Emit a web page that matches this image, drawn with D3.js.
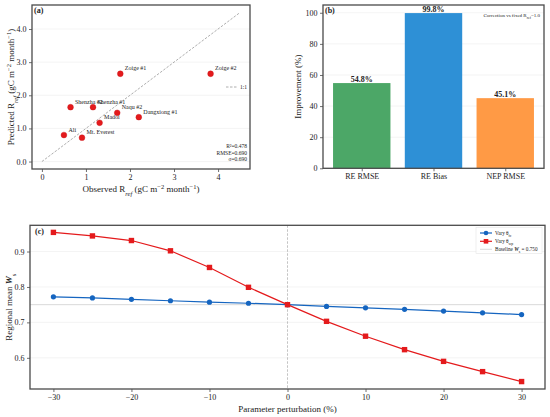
<!DOCTYPE html>
<html>
<head>
<meta charset="utf-8">
<script src="https://cdn.jsdelivr.net/npm/d3@7"></script>
<style>
body { margin: 0; background: #fff; }
text { font-family: "Liberation Serif", "Times New Roman", serif; fill: #222; }
</style>
</head>
<body>
<svg id="fig"></svg>
<script>
// ---- data ----
const sites = ['Zoige #1', 'Zoige #2', 'Shenzha #2', 'Shenzha #1', 'Naqu #2', 'Dangxiong #1', 'Madoi', 'Ali', 'Mt. Everest'];
const obsRref = [1.78, 3.83, 0.65, 1.16, 1.71, 2.20, 1.31, 0.50, 0.91];
const predRref = [2.65, 2.65, 1.64, 1.64, 1.47, 1.34, 1.17, 0.80, 0.72];
const oneToOne = [0, 4.5];
const statsLines = ['R²=0.478', 'RMSE=0.690', 'σ=0.690'];

const barCategories = ['RE RMSE', 'RE Bias', 'NEP RMSE'];
const barValues = [54.8, 99.8, 45.1];
const barColors = ['#4ca767', '#2e90d6', '#ff9a45'];

const perturbation = [-30, -25, -20, -15, -10, -5, 0, 5, 10, 15, 20, 25, 30];
const wsVaryFc = [0.772, 0.769, 0.765, 0.761, 0.757, 0.754, 0.750, 0.745, 0.741, 0.737, 0.732, 0.727, 0.722];
const wsVaryWp = [0.954, 0.944, 0.931, 0.902, 0.855, 0.799, 0.750, 0.703, 0.661, 0.623, 0.590, 0.561, 0.533];
const wsBaseline = 0.750;

const W = 550, H = 417;
const svg = d3.select('#fig').attr('width', W).attr('height', H);
svg.append('rect').attr('width', W).attr('height', H).attr('fill', '#fff');

const frameColor = '#4a4a4a';

// draws y grid, ticks, and frame for a panel
function drawAxes(g, x, y, box, xTicks, yTicks, xFmt, yFmt) {
    g.selectAll('.grid').data(yTicks).enter().append('line')
        .attr('x1', box.left).attr('x2', box.right)
        .attr('y1', d => y(d)).attr('y2', d => y(d))
        .attr('stroke', '#ececec').attr('stroke-width', 0.6);

    const ax = g.append('g').attr('transform', `translate(0,${box.bottom})`)
        .call(d3.axisBottom(x).tickValues(xTicks).tickSize(3).tickPadding(2.5).tickFormat(xFmt));
    const ay = g.append('g').attr('transform', `translate(${box.left},0)`)
        .call(d3.axisLeft(y).tickValues(yTicks).tickSize(3).tickPadding(2.5).tickFormat(yFmt));
    [ax, ay].forEach(a => {
        a.select('.domain').remove();
        a.selectAll('line').attr('stroke', frameColor).attr('stroke-width', 0.8);
        a.selectAll('text').style('font-family', '"Liberation Serif", serif').style('font-size', '8px').attr('fill', '#222');
    });
    if (!xFmt) ax.selectAll('text').text(d => d < 0 ? '\u2212' + Math.abs(d) : d);
}

function drawFrame(g, box) {
    g.append('rect')
        .attr('x', box.left).attr('y', box.top)
        .attr('width', box.right - box.left).attr('height', box.bottom - box.top)
        .attr('fill', 'none').attr('stroke', frameColor).attr('stroke-width', 1.3);
}

function unitsLabel(t, prefix) {
    t.append('tspan').text(prefix + ' R');
    t.append('tspan').attr('baseline-shift', 'sub').style('font-size', '6.5px').style('font-style', 'italic').text('ref');
    t.append('tspan').text(' (gC m');
    t.append('tspan').attr('baseline-shift', 'super').style('font-size', '6.5px').text('\u22122');
    t.append('tspan').text(' month');
    t.append('tspan').attr('baseline-shift', 'super').style('font-size', '6.5px').text('\u22121');
    t.append('tspan').text(')');
}

// ---- panel (a): scatter ----
{
    const box = {left: 32, right: 250, top: 5, bottom: 169};
    const x = d3.scaleLinear().domain([-0.225, 4.725]).range([box.left, box.right]);
    const y = d3.scaleLinear().domain([-0.225, 4.725]).range([box.bottom, box.top]);
    const g = svg.append('g');
    drawAxes(g, x, y, box, [0, 1, 2, 3, 4], [0, 1, 2, 3, 4]);

    g.append('line')
        .attr('x1', x(oneToOne[0])).attr('y1', y(oneToOne[0]))
        .attr('x2', x(oneToOne[1])).attr('y2', y(oneToOne[1]))
        .attr('stroke', '#999').attr('stroke-width', 0.8).attr('stroke-dasharray', '2.5,1.5');

    const pts = sites.map((s, i) => ({name: s, o: obsRref[i], p: predRref[i]}));
    g.selectAll('.pt').data(pts).enter().append('circle')
        .attr('cx', d => x(d.o)).attr('cy', d => y(d.p)).attr('r', 2.9)
        .attr('fill', '#e41a1c').attr('stroke', '#c8141a').attr('stroke-width', 0.4);
    g.selectAll('.lbl').data(pts).enter().append('text')
        .attr('x', d => x(d.o) + 4.5).attr('y', d => y(d.p) - 3.5)
        .style('font-size', '6px')
        .text(d => d.name);

    // legend 1:1
    g.append('line').attr('x1', 226).attr('x2', 237).attr('y1', 87).attr('y2', 87)
        .attr('stroke', '#999').attr('stroke-width', 0.8).attr('stroke-dasharray', '2.5,1.5');
    g.append('text').attr('x', 240).attr('y', 89).style('font-size', '5.5px').text('1:1');

    g.selectAll('.stat').data(statsLines).enter().append('text')
        .attr('x', 247).attr('y', (d, i) => 148 + i * 6.5)
        .attr('text-anchor', 'end').style('font-size', '5.5px')
        .text(d => d);

    drawFrame(g, box);
    g.append('text').attr('x', 34).attr('y', 13).style('font-size', '8px').style('font-weight', 'bold').text('(a)');

    unitsLabel(g.append('text').attr('x', (box.left + box.right) / 2).attr('y', 192)
        .attr('text-anchor', 'middle').style('font-size', '9px'), 'Observed');
    unitsLabel(g.append('text').attr('transform', `translate(14,${(box.top + box.bottom) / 2}) rotate(-90)`)
        .attr('text-anchor', 'middle').style('font-size', '9px'), 'Predicted');
}

// ---- panel (b): bars ----
{
    const box = {left: 323, right: 544, top: 5, bottom: 168.3};
    const x = d3.scaleLinear().domain([-0.54, 2.54]).range([box.left, box.right]);
    const y = d3.scaleLinear().domain([0, 105]).range([box.bottom, box.top]);
    const g = svg.append('g');
    drawAxes(g, x, y, box, [0, 1, 2], [0, 20, 40, 60, 80, 100], i => barCategories[i], d => d);

    const bars = barCategories.map((c, i) => ({c: c, v: barValues[i], i: i}));
    g.selectAll('.bar').data(bars).enter().append('rect')
        .attr('x', d => x(d.i - 0.4)).attr('width', x(0.4) - x(-0.4))
        .attr('y', d => y(d.v)).attr('height', d => y(0) - y(d.v))
        .attr('fill', d => barColors[d.i]);
    g.selectAll('.val').data(bars).enter().append('text')
        .attr('x', d => x(d.i)).attr('y', d => y(d.v) - 1.5)
        .attr('text-anchor', 'middle').style('font-size', '8px').style('font-weight', 'bold')
        .text(d => d.v.toFixed(1) + '%');

    const note = g.append('text').attr('x', 540).attr('y', 17).attr('text-anchor', 'end').style('font-size', '5px');
    note.append('tspan').text('Correction vs fixed R');
    note.append('tspan').attr('baseline-shift', 'sub').style('font-size', '3.8px').text('ref');
    note.append('tspan').text('=1.0');

    drawFrame(g, box);
    g.append('text').attr('x', 325).attr('y', 13).style('font-size', '8px').style('font-weight', 'bold').text('(b)');
    g.append('text').attr('transform', `translate(301,${(box.top + box.bottom) / 2}) rotate(-90)`)
        .attr('text-anchor', 'middle').style('font-size', '9px').text('Improvement (%)');
}

// ---- panel (c): sensitivity lines ----
{
    const box = {left: 30, right: 545, top: 225.3, bottom: 389};
    const x = d3.scaleLinear().domain([-33, 33]).range([box.left, box.right]);
    const y = d3.scaleLinear().domain([0.512, 0.974]).range([box.bottom, box.top]);
    const g = svg.append('g');
    drawAxes(g, x, y, box, [-30, -20, -10, 0, 10, 20, 30], [0.6, 0.7, 0.8, 0.9], null, d3.format('.1f'));

    g.append('line').attr('x1', box.left).attr('x2', box.right)
        .attr('y1', y(wsBaseline)).attr('y2', y(wsBaseline))
        .attr('stroke', '#c8c8c8').attr('stroke-width', 0.7);
    g.append('line').attr('x1', x(0)).attr('x2', x(0))
        .attr('y1', box.top).attr('y2', box.bottom)
        .attr('stroke', '#aaa').attr('stroke-width', 0.7).attr('stroke-dasharray', '2.5,1.5');

    const line = d3.line().x(d => x(d[0])).y(d => y(d[1]));
    const blue = '#1565c0', red = '#e41a1c';
    const sB = perturbation.map((p, i) => [p, wsVaryFc[i]]);
    const sR = perturbation.map((p, i) => [p, wsVaryWp[i]]);

    g.append('path').datum(sB).attr('d', line).attr('fill', 'none').attr('stroke', blue).attr('stroke-width', 1.2);
    g.selectAll('.mb').data(sB).enter().append('circle')
        .attr('cx', d => x(d[0])).attr('cy', d => y(d[1])).attr('r', 2.6).attr('fill', blue);
    g.append('path').datum(sR).attr('d', line).attr('fill', 'none').attr('stroke', red).attr('stroke-width', 1.2);
    g.selectAll('.mr').data(sR).enter().append('rect')
        .attr('x', d => x(d[0]) - 2.7).attr('y', d => y(d[1]) - 2.7)
        .attr('width', 5.4).attr('height', 5.4).attr('fill', red);

    // legend
    const lg = g.append('g');
    lg.append('rect').attr('x', 476).attr('y', 227.5).attr('width', 66).attr('height', 26)
        .attr('fill', '#fff').attr('fill-opacity', 0.8).attr('stroke', '#e0e0e0').attr('stroke-width', 0.5);
    const rows = [
        {y: 233, color: blue, shape: 'circle', sub: 'fc'},
        {y: 241.3, color: red, shape: 'square', sub: 'wp'}
    ];
    rows.forEach(r => {
        lg.append('line').attr('x1', 480).attr('x2', 492).attr('y1', r.y).attr('y2', r.y)
            .attr('stroke', r.color).attr('stroke-width', 1.2);
        if (r.shape === 'circle') {
            lg.append('circle').attr('cx', 486).attr('cy', r.y).attr('r', 2.3).attr('fill', r.color);
        } else {
            lg.append('rect').attr('x', 483.7).attr('y', r.y - 2.3).attr('width', 4.6).attr('height', 4.6).attr('fill', r.color);
        }
        const t = lg.append('text').attr('x', 495).attr('y', r.y + 1.8).style('font-size', '5.2px');
        t.append('tspan').text('Vary θ');
        t.append('tspan').attr('baseline-shift', 'sub').style('font-size', '3.8px').text(r.sub);
    });
    lg.append('line').attr('x1', 480).attr('x2', 492).attr('y1', 249.3).attr('y2', 249.3)
        .attr('stroke', '#c8c8c8').attr('stroke-width', 0.7);
    const bt = lg.append('text').attr('x', 495).attr('y', 251.1).style('font-size', '5.2px');
    bt.append('tspan').text('Baseline ');
    bt.append('tspan').style('font-style', 'italic').style('font-weight', 'bold').text('W');
    bt.append('tspan').attr('baseline-shift', 'sub').style('font-size', '3.8px').text('s');
    bt.append('tspan').text(' = 0.750');

    drawFrame(g, box);
    g.append('text').attr('x', 35).attr('y', 233.5).style('font-size', '8px').style('font-weight', 'bold').text('(c)');

    const yl = g.append('text').attr('transform', `translate(12,${(box.top + box.bottom) / 2}) rotate(-90)`)
        .attr('text-anchor', 'middle').style('font-size', '9px');
    yl.append('tspan').text('Regional mean ');
    yl.append('tspan').style('font-style', 'italic').style('font-weight', 'bold').text('W');
    yl.append('tspan').attr('baseline-shift', 'sub').style('font-size', '6.5px').text('s');

    g.append('text').attr('x', (box.left + box.right) / 2).attr('y', 412)
        .attr('text-anchor', 'middle').style('font-size', '9px').text('Parameter perturbation (%)');
}
</script>
</body>
</html>
